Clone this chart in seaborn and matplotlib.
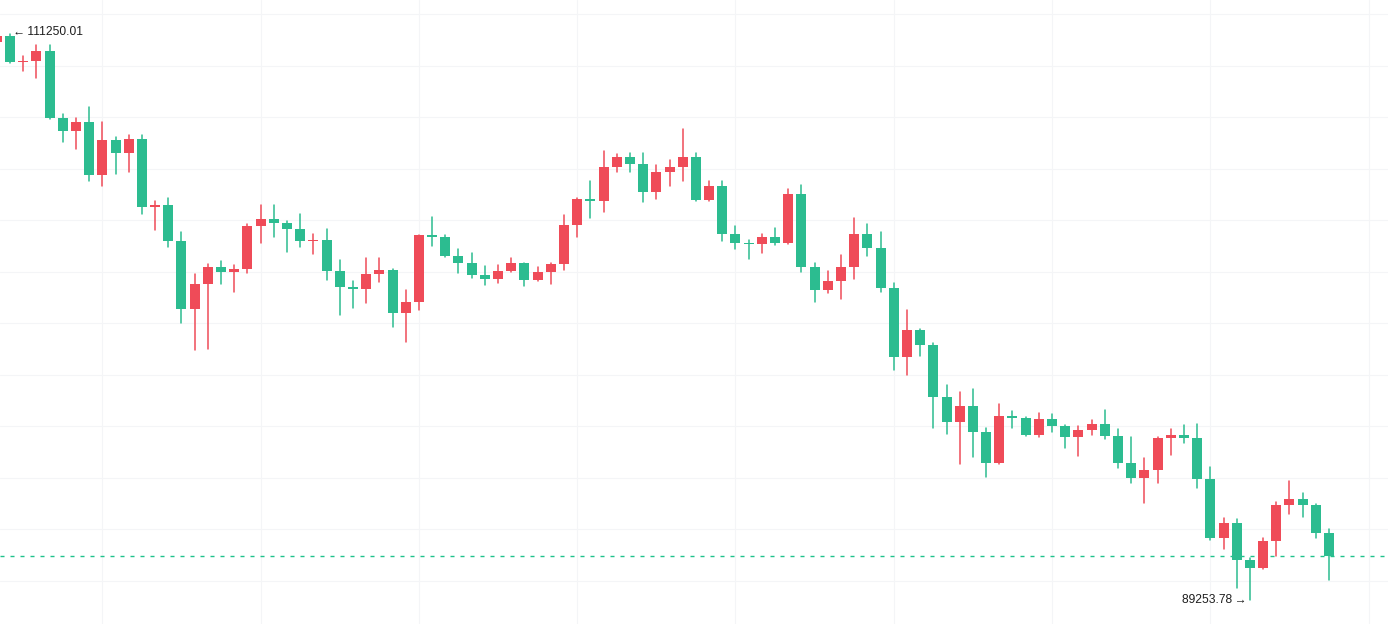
import numpy as np
import pandas as pd
import matplotlib
matplotlib.use("Agg")
import matplotlib.pyplot as plt
import seaborn as sns

# ---- data (daily candles, index -1 .. 100) ----
day_index = list(range(-1, 101))
opens = [110910, 111180, 110145, 110183, 110599, 107970, 107466, 107842, 105757, 107143,
         106612, 107182, 104515, 104619, 103194, 100554, 101513, 102173, 101991, 102096,
         103777, 104037, 103905, 103668, 103194, 103260, 102029, 101408, 101331, 101929,
         102057, 100399, 100814, 103416, 103350, 102611, 102340, 101874, 101719, 102018,
         102329, 101680, 101979, 102290, 103804, 104852, 104763, 106056, 106483, 106184,
         105097, 105862, 106056, 106483, 104787, 105357, 103466, 103112, 103073, 103338,
         103112, 105046, 102185, 101292, 101668, 102173, 103493, 102923, 101369, 98690,
         99727, 99156, 97137, 96166, 96814, 95778, 94574, 96426, 96321, 95669,
         96271, 96011, 95584, 95844, 96115, 95623, 94574, 93992, 94291, 95533,
         95669, 95545, 93953, 91662, 92233, 90808, 90497, 91534, 92932, 93203,
         92943, 91856]
highs = [111230, 111250.01, 110378, 110805, 110805, 108114, 107970, 108386, 107842, 107221,
         107337, 107337, 104736, 104879, 103532, 101929, 102317, 102406, 102251, 103854,
         104581, 104581, 103971, 104231, 103493, 103668, 102445, 101668, 102534, 102561,
         102107, 101280, 103440, 104141, 103443, 102872, 102717, 102212, 102263, 102523,
         102367, 102173, 102367, 104204, 104880, 105551, 106716, 106588, 106635, 106635,
         106134, 106355, 107543, 106612, 105551, 105551, 103777, 103260, 103493, 103699,
         105240, 105369, 102329, 102029, 102639, 104114, 103854, 103532, 101579, 100542,
         99792, 99222, 97591, 97358, 97436, 95953, 96885, 96593, 96387, 96504,
         96465, 96040, 95999, 96232, 96659, 95914, 95599, 94757, 95572, 95914,
         96050, 96088, 94434, 92427, 92388, 90874, 91650, 93060, 93864, 93436,
         93009, 92000]
lows = [110850, 110120, 109797, 109512, 107940, 107032, 106756, 105551, 105330, 105796,
        105874, 104231, 103648, 102961, 100037, 98977, 99001, 101524, 101213, 101952,
        103105, 103350, 102767, 102961, 102690, 101680, 100337, 100581, 100787, 101618,
        99854, 99288, 100542, 103000, 102572, 101940, 101746, 101486, 101564, 101990,
        101447, 101660, 101541, 102084, 103350, 104102, 104328, 105889, 105889, 104709,
        104825, 105330, 105551, 104760, 104760, 103210, 102884, 102495, 102729, 103039,
        103090, 101991, 100841, 101175, 100958, 101707, 102604, 101213, 98193, 98018,
        98729, 95941, 95727, 94562, 94822, 94031, 94550, 95926, 95630, 95572,
        95766, 95157, 94846, 95661, 95514, 94380, 93798, 93021, 93798, 94885,
        95351, 93603, 91584, 91235, 89720, 89253.78, 90480, 90963, 92594, 92477,
        91662, 90031]
closes = [111180, 110145, 110200, 110599, 107970, 107466, 107842, 105757, 107143, 106612,
          107182, 104515, 104619, 103194, 100554, 101513, 102173, 101991, 102096, 103777,
          104037, 103905, 103668, 103194, 103260, 102029, 101408, 101331, 101929, 102057,
          100399, 100814, 103416, 103350, 102611, 102340, 101874, 101719, 102018, 102329,
          101680, 101979, 102290, 103804, 104852, 104763, 106056, 106483, 106184, 105097,
          105862, 106056, 106483, 104787, 105357, 103466, 103112, 103073, 103338, 103112,
          105046, 102185, 101292, 101668, 102173, 103493, 102923, 101369, 98690, 99727,
          99156, 97137, 96166, 96814, 95778, 94574, 96426, 96321, 95669, 96271,
          96011, 95584, 95844, 96115, 95623, 94574, 93992, 94291, 95533, 95669,
          95545, 93953, 91662, 92233, 90808, 90497, 91534, 92932, 93203, 92943,
          91856, 90963]

max_label = "111250.01"
min_label = "89253.78"
price_ticks = list(range(90000, 112001, 2000))
time_ticks = list(range(7, 105, 12))

UP = "#ef4b58"
DOWN = "#2cbc90"
LAST_LINE = "#1fc28c"
palette = {"up": UP, "down": DOWN}

df = pd.DataFrame({"day": day_index, "open": opens, "high": highs,
                   "low": lows, "close": closes})
df["direction"] = np.where(df["close"] >= df["open"], "up", "down")
df["body_low"] = df[["open", "close"]].min(axis=1)
df["body_high"] = df[["open", "close"]].max(axis=1)

wicks = pd.concat([
    df[["day", "direction"]].assign(price=df["low"]),
    df[["day", "direction"]].assign(price=df["high"]),
]).sort_values(["day", "price"])

sns.set_theme(style="white")
plt.rcParams["font.family"] = ["Liberation Sans", "DejaVu Sans"]

fig = plt.figure(figsize=(13.88, 6.24), dpi=100)
ax = fig.add_axes([0, 0, 1, 1])

sns.lineplot(data=wicks, x="day", y="price", hue="direction", units="day",
             estimator=None, palette=palette, linewidth=1.1, legend=False,
             sort=False, ax=ax, zorder=2)

ax.bar(df["day"], df["body_high"] - df["body_low"], bottom=df["body_low"],
       width=0.76, color=df["direction"].map(palette), linewidth=0, zorder=3)

ax.axhline(closes[-1], color=LAST_LINE, linewidth=1.0, dashes=(2.9, 4.3), zorder=1)

ax.set_xlim(-0.758, 104.47)
ax.set_ylim(88330, 112560)
ax.set_xticks(time_ticks)
ax.set_yticks(price_ticks)
ax.grid(True, color="#f4f5f7", linewidth=0.8, zorder=0)
ax.set_axisbelow(True)
ax.tick_params(length=0, labelbottom=False, labelleft=False)
ax.set_xlabel("")
ax.set_ylabel("")
for s in ax.spines.values():
    s.set_visible(False)

hi_i = int(np.argmax(highs))
lo_i = int(np.argmin(lows))
ax.annotate("\u2190\u2009" + max_label, xy=(day_index[hi_i], highs[hi_i]), xytext=(3, 2),
            textcoords="offset pixels", ha="left", va="center",
            fontsize=8.64, color="#1e1e1e")
ax.annotate(min_label + "\u2009\u2192", xy=(day_index[lo_i], lows[lo_i]), xytext=(-3, 0),
            textcoords="offset pixels", ha="right", va="center",
            fontsize=8.64, color="#1e1e1e")

fig.savefig("out.png", dpi=100, facecolor="white")
